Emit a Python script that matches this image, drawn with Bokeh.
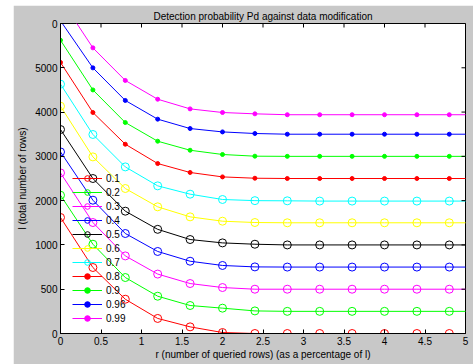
import math
from bokeh.plotting import figure
from bokeh.models import FixedTicker, Spacer
from bokeh.layouts import row, column
from bokeh.embed import file_html
from bokeh.resources import INLINE

# ---- data ----
r_pct = [0, 0.4, 0.8, 1.2, 1.6, 2.0, 2.4, 2.8, 3.2, 3.6, 4.0, 4.4, 4.8, 5.2]

pd_labels = ["0.1", "0.2", "0.3", "0.4", "0.5", "0.6", "0.7", "0.8", "0.9", "0.96", "0.99"]

l_pd010 = [1310, 745, 387, 170, 75, 11, 0, 0, 0, 0, 0, 0, 0, 0]
l_pd020 = [1561, 1008, 632, 421, 316, 286, 255, 250, 250, 250, 250, 250, 250, 250]
l_pd030 = [1813, 1253, 876, 671, 564, 519, 500, 500, 500, 500, 500, 500, 500, 500]
l_pd040 = [2050, 1505, 1129, 926, 816, 768, 752, 750, 750, 750, 750, 750, 750, 750]
l_pd050 = [2303, 1750, 1381, 1176, 1061, 1023, 1008, 1000, 1000, 1000, 1000, 1000, 1000, 1000]
l_pd060 = [2566, 1994, 1637, 1430, 1317, 1268, 1253, 1250, 1250, 1250, 1250, 1250, 1250, 1250]
l_pd070 = [2815, 2247, 1881, 1667, 1573, 1513, 1500, 1498, 1495, 1495, 1495, 1495, 1495, 1495]
l_pd080 = [3060, 2495, 2137, 1919, 1818, 1768, 1753, 1750, 1750, 1750, 1750, 1750, 1750, 1750]
l_pd090 = [3311, 2750, 2382, 2171, 2069, 2021, 2002, 2000, 2000, 2000, 2000, 2000, 2000, 2000]
l_pd096 = [3530, 2999, 2631, 2420, 2314, 2276, 2258, 2250, 2250, 2250, 2250, 2250, 2250, 2250]
l_pd099 = [3780, 3225, 2857, 2645, 2536, 2495, 2480, 2470, 2470, 2470, 2470, 2470, 2470, 2470]

series_values = [l_pd010, l_pd020, l_pd030, l_pd040, l_pd050, l_pd060,
                 l_pd070, l_pd080, l_pd090, l_pd096, l_pd099]

x_ticks = [0, 0.5, 1, 1.5, 2, 2.5, 3, 3.5, 4, 4.5, 5]
x_tick_labels = ["0", "0.5", "1", "1.5", "2", "2.5", "3", "3.5", "4", "4.5", "5"]
y_ticks = [0, 500, 1000, 1500, 2000, 2500, 3000, 3500]
y_tick_labels = ["0", "500", "1000", "2000", "3000", "4000", "5000", "0"]

X_MIN, X_MAX = 0, 5
Y_MIN, Y_MAX = 0, 3500

# ---- styles ----
colors = ["#ff0000", "#00ff00", "#ff00ff", "#0000ff", "#000000", "#ffff00",
          "#00ffff", "#ff0000", "#00ff00", "#0000ff", "#ff00ff"]
markers = ["o"] * 7 + ["."] * 4

FONT = "Liberation Sans"
GREY = "#c8c8c8"

p = figure(width=460, height=359, x_range=(X_MIN, X_MAX), y_range=(Y_MIN, Y_MAX),
           output_backend="svg", toolbar_location=None,
           min_border_left=47, min_border_right=8, min_border_top=18, min_border_bottom=31,
           border_fill_color=GREY, background_fill_color="white",
           title="Detection probability Pd against data modification")
p.grid.visible = False
p.outline_line_color = "black"
p.title.align = "center"
p.title.vertical_align = "middle"
p.title.text_font = FONT
p.title.text_font_size = "10px"
p.title.text_font_style = "normal"
p.title.text_color = "black"
p.title.standoff = 2

for lbl, vals, col, mk in zip(pd_labels, series_values, colors, markers):
    p.line(r_pct, vals, line_color=col, line_width=1, legend_label=lbl)
    if mk == "o":
        p.scatter(r_pct, vals, marker="circle", size=8, fill_color=None,
                  line_color=col, line_width=1, legend_label=lbl)
    else:
        p.scatter(r_pct, vals, marker="circle", size=4, fill_color=col,
                  line_color=col, legend_label=lbl)

# inward ticks on the top and right edges of the box (clipped half-dashes)
p.scatter(x_ticks, [Y_MAX] * len(x_ticks), marker="dash", size=8, angle=math.pi / 2,
          line_color="black", line_width=1)
p.scatter([X_MAX] * len(y_ticks), y_ticks, marker="dash", size=8,
          line_color="black", line_width=1)

xt = FixedTicker(ticks=x_ticks)
yt = FixedTicker(ticks=y_ticks)

def style_axis(ax, ticker, labels):
    ax.ticker = ticker
    ax.axis_line_color = "black"
    ax.major_tick_line_color = "black"
    ax.major_tick_in = 4
    ax.major_tick_out = 0
    ax.minor_tick_line_color = None
    ax.major_label_text_font = FONT
    ax.major_label_text_color = "black"
    ax.major_label_overrides = {t: s for t, s in zip(ticker.ticks, labels)}
    ax.major_label_text_font_size = "10px"
    ax.major_label_standoff = 3
    ax.axis_label_text_font = FONT
    ax.axis_label_text_font_size = "10px"
    ax.axis_label_text_font_style = "normal"
    ax.axis_label_text_color = "black"

style_axis(p.xaxis[0], xt, x_tick_labels)
style_axis(p.yaxis[0], yt, y_tick_labels)
p.xaxis[0].axis_label = "r (number of queried rows) (as a percentage of l)"
p.yaxis[0].axis_label = "l (total number of rows)"
p.xaxis[0].axis_label_standoff = 1
p.yaxis[0].axis_label_standoff = 4

lg = p.legend[0]
lg.location = (12, 8)
lg.padding = 0
lg.margin = 0
lg.spacing = 0
lg.glyph_height = 14
lg.glyph_width = 30
lg.label_height = 14
lg.label_standoff = 4
lg.label_text_font = FONT
lg.label_text_font_size = "10px"
lg.label_text_color = "black"
lg.background_fill_alpha = 0
lg.border_line_alpha = 0

layout = row(Spacer(width=13, height=364),
             column(Spacer(width=460, height=5), p))

open("out.html", "w").write(file_html(layout, INLINE))
